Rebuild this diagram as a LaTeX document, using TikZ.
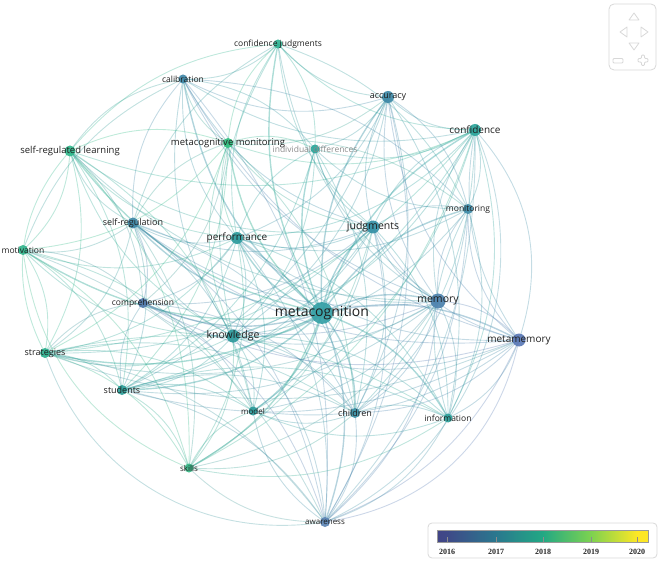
\documentclass[tikz,border=0pt]{standalone}
\usepackage{fontspec}
\setmainfont{Open Sans}
\newfontfamily\legfont{Liberation Serif}
\usetikzlibrary{shapes.geometric}
\definecolor{colmc}{HTML}{35A0A6}
\definecolor{colmem}{HTML}{4D82AE}
\definecolor{colmm}{HTML}{5A78B6}
\definecolor{colacc}{HTML}{3D88A6}
\definecolor{colconf}{HTML}{2CA69C}
\definecolor{coljud}{HTML}{3590A6}
\definecolor{colperf}{HTML}{2E9C9E}
\definecolor{colsreg}{HTML}{4088A8}
\definecolor{colcomp}{HTML}{5078AA}
\definecolor{colknow}{HTML}{2E999C}
\definecolor{colstrat}{HTML}{2CB08E}
\definecolor{colstud}{HTML}{2C9F99}
\definecolor{colsrl}{HTML}{30B98C}
\definecolor{colmmon}{HTML}{32C080}
\definecolor{colmot}{HTML}{32B48C}
\definecolor{colskills}{HTML}{38B887}
\definecolor{colcj}{HTML}{2FB292}
\definecolor{colcal}{HTML}{4088A8}
\definecolor{colidiff}{HTML}{2CA69B}
\definecolor{colmon}{HTML}{408BA8}
\definecolor{colchild}{HTML}{3C90A6}
\definecolor{colinfo}{HTML}{2CA19B}
\definecolor{colmodel}{HTML}{2C9C9B}
\definecolor{colaware}{HTML}{5C84B4}
\definecolor{v0}{HTML}{414487}
\definecolor{v1}{HTML}{2A788E}
\definecolor{v2}{HTML}{22A884}
\definecolor{v3}{HTML}{7AD151}
\definecolor{v4}{HTML}{FDE725}
\definecolor{navgray}{HTML}{D8D8D8}
\pgfdeclarehorizontalshading{viridis}{100bp}{color(0bp)=(v0); color(25bp)=(v0); color(27.4bp)=(v0!90!v1); color(39bp)=(v1); color(50bp)=(v2); color(61.2bp)=(v3); color(72.4bp)=(v4); color(75bp)=(v4); color(100bp)=(v4)}
\tikzset{
  edge/.style={line width=0.9pt, draw opacity=0.31},
  hubedge/.style={line width=1.4pt, draw opacity=0.4},
  dot/.style={circle, inner sep=0pt, draw=none, fill opacity=0.92},
  lab/.style={font=\fontsize{9}{10}\selectfont, text=black!88, inner sep=0pt},
  navline/.style={draw=navgray, line width=0.8pt, line join=round}
}
\begin{document}
\begin{tikzpicture}[x=1pt,y=-1pt]
\useasboundingbox (0,0) rectangle (661,561);
% positions
\coordinate (cj) at (278,44);
\coordinate (cal) at (183,79);
\coordinate (acc) at (388,97);
\coordinate (conf) at (475,130);
\coordinate (mmon) at (228,143);
\coordinate (idiff) at (315,149);
\coordinate (srl) at (70,151);
\coordinate (mon) at (468,209);
\coordinate (jud) at (373,227);
\coordinate (sreg) at (133,223);
\coordinate (perf) at (237,238);
\coordinate (mot) at (23,250);
\coordinate (comp) at (143,303);
\coordinate (mc) at (322,313);
\coordinate (mem) at (438,301);
\coordinate (mm) at (519,340);
\coordinate (know) at (233,336);
\coordinate (strat) at (45,353);
\coordinate (stud) at (122,390);
\coordinate (model) at (253,411);
\coordinate (child) at (355,413);
\coordinate (info) at (448,418);
\coordinate (skills) at (189,468);
\coordinate (aware) at (325,522);
% hub edges
\foreach \b in {cj,cal,acc,conf,mmon,idiff,srl,mon,jud,sreg,perf,mot,comp,know,strat,stud,model,child,info,skills,aware,mem,mm}{
  \colorlet{ec}{colmc!50!col\b}
  \draw[hubedge, draw=ec] (mc) to[bend left=20] (\b);
}
% other edges
\foreach \a/\b in {
 mem/acc,mem/conf,mem/mon,mem/jud,mem/mm,mem/child,mem/info,mem/aware,mem/perf,mem/know,mem/cal,mem/cj,mem/comp,mem/idiff,mem/model,mem/sreg,mem/strat,mem/stud,mem/skills,mem/srl,
 mm/acc,mm/conf,mm/mon,mm/jud,mm/child,mm/info,mm/aware,mm/perf,mm/know,mm/comp,mm/cal,mm/stud,mm/strat,mm/model,mm/sreg,
 jud/acc,jud/conf,jud/mon,jud/cj,jud/cal,jud/mmon,jud/perf,jud/know,jud/child,jud/info,jud/idiff,jud/comp,jud/model,jud/stud,jud/aware,jud/sreg,jud/srl,jud/strat,jud/skills,
 conf/acc,conf/cj,conf/cal,conf/mmon,conf/mon,conf/perf,conf/idiff,conf/know,conf/info,conf/child,conf/aware,conf/srl,conf/stud,conf/strat,conf/skills,conf/model,
 acc/cj,acc/cal,acc/mmon,acc/mon,acc/perf,acc/idiff,acc/child,acc/know,acc/info,acc/aware,acc/stud,
 perf/cj,perf/cal,perf/mmon,perf/srl,perf/sreg,perf/mot,perf/comp,perf/know,perf/strat,perf/stud,perf/model,perf/skills,perf/idiff,perf/child,perf/info,perf/aware,
 know/srl,know/sreg,know/mot,know/comp,know/strat,know/stud,know/skills,know/model,know/child,know/aware,know/mmon,know/cal,know/cj,know/info,
 sreg/srl,sreg/mot,sreg/strat,sreg/stud,sreg/comp,sreg/skills,sreg/mmon,sreg/cal,sreg/cj,sreg/model,sreg/child,sreg/aware,
 srl/mot,srl/strat,srl/stud,srl/skills,srl/mmon,srl/cal,srl/cj,srl/comp,srl/model,
 mot/strat,mot/stud,mot/skills,mot/cal,mot/comp,mot/model,mot/aware,
 strat/stud,strat/skills,strat/comp,strat/model,strat/aware,strat/child,strat/info,
 stud/skills,stud/comp,stud/model,stud/aware,stud/child,stud/info,
 mmon/cj,mmon/cal,mmon/idiff,mmon/mon,mmon/stud,mmon/strat,mmon/mot,mmon/comp,mmon/child,
 cj/cal,cj/idiff,cj/mon,cal/idiff,cal/mon,cal/aware,
 idiff/child,idiff/know,idiff/stud,
 comp/model,comp/child,comp/aware,
 child/info,child/model,child/aware,child/skills,
 info/aware,info/mon,info/model,info/skills,aware/skills,aware/model,skills/model,
 mon/idiff,mon/child,mon/info,mon/perf,mon/know,mon/aware}{
  \colorlet{ec}{col\a!50!col\b}
  \draw[edge, draw=ec] (\a) to[bend left=22] (\b);
}
% big outer arcs
\draw[edge, draw=colmm!50!colaware] (mm) to[bend left=35] (aware);
\draw[edge, draw=colconf!50!colmm] (conf) to[bend left=30] (mm);
\draw[edge, draw=colconf!50!colaware] (conf) to[bend left=45] (aware);
\draw[edge, draw=colstrat!50!colaware] (aware) to[bend left=40] (strat);
\draw[edge, draw=colskills] (skills) to[bend left=30] (mot);
\draw[edge, draw=colsrl] (strat) to[bend left=35] (srl);
% node circles
\foreach \n/\r in {mc/11,mem/7.5,mm/6.5,jud/6.5,perf/6,know/6.5,acc/6,conf/6,sreg/5.5,comp/5,strat/5,stud/5,srl/5.5,mmon/5,mot/5,skills/4.5,cj/4.5,cal/4.5,idiff/4.5,mon/5,child/5,info/4.5,model/4.5,aware/5}{
  \node[dot, minimum size=2*\r pt, fill=col\n] (\n-c) at (\n) {};
}
% labels
\node[lab, font=\fontsize{14}{15}\selectfont] (l-mc) at (mc) {metacognition};
\node[lab, font=\fontsize{10.5}{11}\selectfont] (l-mem) at (mem) {memory};
\node[lab, font=\fontsize{10}{11}\selectfont] (l-mm) at (mm) {metamemory};
\node[lab, font=\fontsize{10.5}{11}\selectfont] (l-jud) at (jud) {judgments};
\node[lab, font=\fontsize{10}{11}\selectfont] (l-perf) at (perf) {performance};
\node[lab, font=\fontsize{10.5}{11}\selectfont] (l-know) at (know) {knowledge};
\node[lab, font=\fontsize{9}{10}\selectfont] (l-acc) at (acc) {accuracy};
\node[lab, font=\fontsize{10}{11}\selectfont] (l-conf) at (conf) {confidence};
\node[lab] (l-sreg) at (sreg) {self-regulation};
\node[lab, font=\fontsize{8.5}{9}\selectfont] (l-comp) at (comp) {comprehension};
\node[lab] (l-strat) at (strat) {strategies};
\node[lab] (l-stud) at (stud) {students};
\node[lab, font=\fontsize{9.5}{10}\selectfont] (l-srl) at (srl) {self-regulated learning};
\node[lab, font=\fontsize{9.5}{10}\selectfont] (l-mmon) at (mmon) {metacognitive monitoring};
\node[lab, font=\fontsize{8.5}{9}\selectfont] (l-mot) at (mot) {motivation};
\node[lab, font=\fontsize{8}{9}\selectfont] (l-skills) at (skills) {skills};
\node[lab, font=\fontsize{8.5}{9}\selectfont] (l-cj) at (cj) {confidence judgments};
\node[lab, font=\fontsize{8.5}{9}\selectfont] (l-cal) at (cal) {calibration};
\node[lab, font=\fontsize{8.5}{9}\selectfont, text=black!45] (l-idiff) at (idiff) {individual differences};
\node[lab, font=\fontsize{8.5}{9}\selectfont] (l-mon) at (mon) {monitoring};
\node[lab] (l-child) at (child) {children};
\node[lab, font=\fontsize{8.5}{9}\selectfont] (l-info) at (info) {information};
\node[lab, font=\fontsize{8}{9}\selectfont] (l-model) at (model) {model};
\node[lab, font=\fontsize{8}{9}\selectfont] (l-aware) at (aware) {awareness};
% legend
\draw[draw=black!15, fill=white, line width=0.8pt, rounded corners=4pt] (428,523) rectangle (657,558);
\shade[shading=viridis] (437,530) rectangle (648,542);
\draw[draw=black!40, line width=0.4pt] (437,530) rectangle (648,542);
\foreach \x/\yr in {447/2016,496/2017,543/2018,591/2019,637/2020}{
  \draw[black!45, line width=0.5pt] (\x,537) -- (\x,542);
  \node[font=\legfont\bfseries\fontsize{8}{9}\selectfont, text=black!85, inner sep=0pt] (yr\yr) at (\x,551.5) {\yr};
}
% navigation control
\draw[navline, rounded corners=5pt] (609,4) rectangle (656,70);
\draw[navline] (629,20) -- (634,13) -- (639,20) -- cycle;
\draw[navline] (627,27) -- (620,32) -- (627,37) -- cycle;
\draw[navline] (641,27) -- (648,32) -- (641,37) -- cycle;
\draw[navline] (629,43) -- (634,50) -- (639,43) -- cycle;
\draw[navline, rounded corners=1pt] (613,58.5) rectangle (623,63);
\draw[navline, rounded corners=1pt] (641.5,55) -- (644.5,55) -- (644.5,58.5) -- (648,58.5) -- (648,62) -- (644.5,62) -- (644.5,65.5) -- (641.5,65.5) -- (641.5,62) -- (638,62) -- (638,58.5) -- (641.5,58.5) -- cycle;
\end{tikzpicture}
\end{document}
